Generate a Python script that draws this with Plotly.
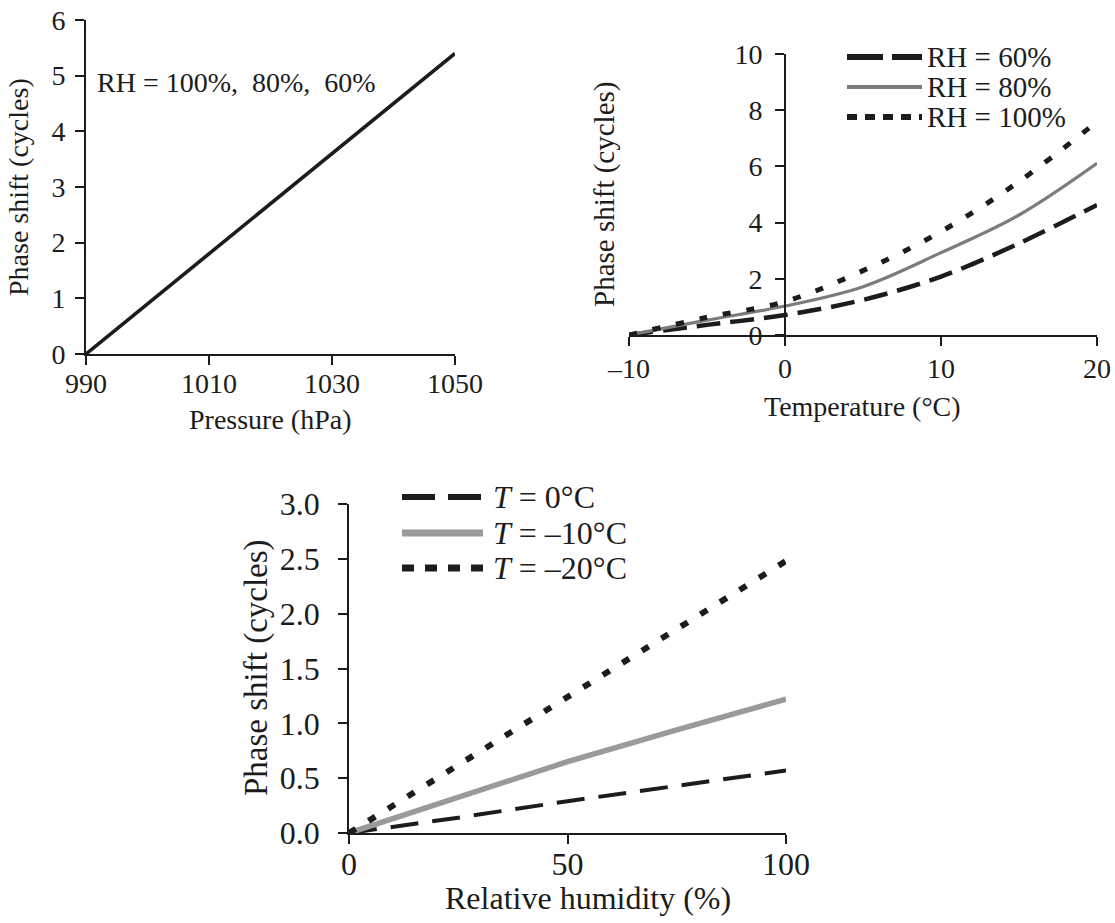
import plotly.graph_objects as go

W, H = 1115, 923

# ---------------- data ----------------
# Panel 1: phase shift vs pressure (same for RH = 100, 80, 60 %)
pressure = [990, 1050]
phase_pressure = [0.0, 5.4]
pressure_ticks = [990, 1010, 1030, 1050]
pressure_yticks = [0, 1, 2, 3, 4, 5, 6]

# Panel 2: phase shift vs temperature
temperature = [-10, -5, 0, 5, 10, 15, 20]
phase_rh60 = [0.0, 0.36, 0.71, 1.25, 2.08, 3.26, 4.63]
phase_rh80 = [0.0, 0.53, 1.03, 1.72, 2.93, 4.27, 6.11]
phase_rh100 = [0.0, 0.63, 1.19, 2.29, 3.68, 5.46, 7.59]
temperature_ticks = [-10, 0, 10, 20]
temperature_ticktext = ["\u201310", "0", "10", "20"]
temperature_yticks = [0, 2, 4, 6, 8, 10]

# Panel 3: phase shift vs relative humidity
humidity = [0, 25, 50, 75, 100]
phase_t0 = [0.0, 0.14, 0.29, 0.43, 0.57]
phase_tm10 = [0.0, 0.32, 0.65, 0.94, 1.22]
phase_tm20 = [0.0, 0.62, 1.25, 1.87, 2.48]
humidity_ticks = [0, 50, 100]
humidity_yticks = [0, 0.5, 1.0, 1.5, 2.0, 2.5, 3.0]

# ---------------- helpers ----------------
def fx(px):
    return px / W

def fy(py):
    return 1 - py / H

INK = "#1c1c1c"
FONT = "Liberation Serif, Times New Roman, serif"
FS_TOP = 28
FS_BOT = 32

def axis_style(fs, **kw):
    d = dict(showline=True, linecolor=INK, linewidth=1.6, ticks="outside",
             ticklen=9, tickwidth=1.6, tickcolor=INK, showgrid=False,
             zeroline=False, automargin=False,
             tickfont=dict(family=FONT, size=fs, color=INK), fixedrange=True)
    d.update(kw)
    return d

fig = go.Figure()

# Panel 1
fig.add_trace(go.Scatter(x=pressure, y=phase_pressure, mode="lines",
                         line=dict(color=INK, width=3.6), name="RH = 100%, 80%, 60%",
                         xaxis="x", yaxis="y"))

# Panel 2
fig.add_trace(go.Scatter(x=temperature, y=phase_rh60, mode="lines", name="RH = 60%",
                         line=dict(color=INK, width=4.5, dash="24px,10px", shape="spline"),
                         xaxis="x2", yaxis="y2"))
fig.add_trace(go.Scatter(x=temperature, y=phase_rh80, mode="lines", name="RH = 80%",
                         line=dict(color="#7c7c7c", width=3.2, shape="spline"),
                         xaxis="x2", yaxis="y2"))
fig.add_trace(go.Scatter(x=temperature, y=phase_rh100, mode="lines", name="RH = 100%",
                         line=dict(color=INK, width=5, dash="8px,16px", shape="spline"),
                         xaxis="x2", yaxis="y2"))

# Panel 3
fig.add_trace(go.Scatter(x=humidity, y=phase_t0, mode="lines", name="T = 0°C",
                         line=dict(color=INK, width=4, dash="28px,14px"),
                         xaxis="x3", yaxis="y3"))
fig.add_trace(go.Scatter(x=humidity, y=phase_tm10, mode="lines", name="T = -10°C",
                         line=dict(color="#9a9a9a", width=5.5),
                         xaxis="x3", yaxis="y3"))
fig.add_trace(go.Scatter(x=humidity, y=phase_tm20, mode="lines", name="T = -20°C",
                         line=dict(color=INK, width=6, dash="8px,15px"),
                         xaxis="x3", yaxis="y3"))

# y-axis of panel 2 crosses at T = 0
x2_dom = [fx(629), fx(1097)]
x2_zero = x2_dom[0] + (x2_dom[1] - x2_dom[0]) * (0 - (-10)) / 30

fig.update_layout(
    width=W, height=H, margin=dict(l=0, r=0, t=0, b=0),
    paper_bgcolor="white", plot_bgcolor="white", showlegend=False,
    font=dict(family=FONT, size=FS_TOP, color=INK),
    xaxis=axis_style(FS_TOP, domain=[fx(86), fx(455)], range=[990, 1050], anchor="y",
                     tickvals=pressure_ticks, ticklabelstandoff=-5),
    yaxis=axis_style(FS_TOP, domain=[fy(354), fy(20)], range=[0, 6], anchor="x",
                     tickvals=pressure_yticks, ticklabelstandoff=4),
    xaxis2=axis_style(FS_TOP, domain=x2_dom, range=[-10, 20], anchor="y2",
                      tickvals=temperature_ticks, ticktext=temperature_ticktext,
                      ticklabelstandoff=-1),
    yaxis2=axis_style(FS_TOP, domain=[fy(335), fy(54)], range=[0, 10], anchor="free",
                      position=x2_zero, tickvals=temperature_yticks, ticklabelstandoff=7),
    xaxis3=axis_style(FS_BOT, domain=[fx(349), fx(786)], range=[0, 100], anchor="y3",
                      tickvals=humidity_ticks, ticklabelstandoff=-7),
    yaxis3=axis_style(FS_BOT, domain=[fy(833), fy(504)], range=[0, 3], anchor="x3",
                      tickvals=humidity_yticks, tickformat=".1f", ticklabelstandoff=12),
)

def text_ann(text, x, y, size, xanchor="center", angle=0):
    return dict(text=text, x=fx(x), y=fy(y), xref="paper", yref="paper",
                xanchor=xanchor, yanchor="middle", textangle=angle, showarrow=False,
                font=dict(family=FONT, size=size, color=INK))

annotations = [
    text_ann("RH = 100%,  80%,  60%", 95, 82, FS_TOP, xanchor="left"),
    # axis titles
    text_ann("Pressure (hPa)", 270, 419, FS_TOP),
    text_ann("Phase shift (cycles)", 18, 187, FS_TOP, angle=-90),
    text_ann("Temperature (°C)", 862, 406, FS_TOP),
    text_ann("Phase shift (cycles)", 604, 194, FS_TOP + 1, angle=-90),
    text_ann("Relative humidity (%)", 588, 898, FS_BOT),
    text_ann("Phase shift (cycles)", 256, 668, FS_BOT + 1, angle=-90),
]

# Hand-drawn legends (long samples as in the original)
legend2 = [("RH = 60%", dict(color=INK, width=6, dash="36px,9px")),
           ("RH = 80%", dict(color="#7c7c7c", width=4)),
           ("RH = 100%", dict(color=INK, width=6, dash="10px,8px"))]
legend2_y = [57, 87, 117]
legend3 = [("<i>T</i> = 0°C", dict(color=INK, width=6, dash="33px,13px")),
           ("<i>T</i> = \u201310°C", dict(color="#9a9a9a", width=7)),
           ("<i>T</i> = \u201320°C", dict(color=INK, width=7, dash="12px,11px"))]
legend3_y = [497, 533, 568]

shapes = []
for (label, ln), yy in zip(legend2, legend2_y):
    shapes.append(dict(type="line", xref="paper", yref="paper", x0=fx(847), x1=fx(922),
                       y0=fy(yy), y1=fy(yy), line=ln))
    annotations.append(text_ann(label, 925, yy, 29, xanchor="left"))
for (label, ln), yy in zip(legend3, legend3_y):
    shapes.append(dict(type="line", xref="paper", yref="paper", x0=fx(402), x1=fx(483),
                       y0=fy(yy), y1=fy(yy), line=ln))
    annotations.append(text_ann(label, 491, yy, FS_BOT, xanchor="left"))

fig.update_layout(annotations=annotations, shapes=shapes)

# the page's default 8px body margin would shift the figure; remove it
fig.write_html("out.html", config={"displayModeBar": False},
               post_script="document.body.style.margin='0';document.body.style.overflow='hidden';")
